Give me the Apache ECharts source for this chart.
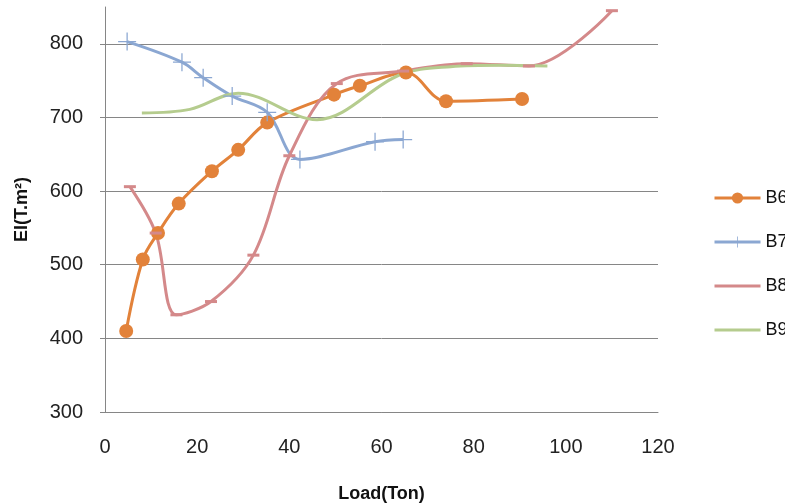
<!DOCTYPE html>
<html>
<head>
<meta charset="utf-8">
<script src="https://cdn.jsdelivr.net/npm/echarts@6/dist/echarts.min.js"></script>
<style>
  html, body { margin: 0; padding: 0; background: #fff; }
  #chart { width: 785px; height: 504px; }
</style>
</head>
<body>
<div id="chart"></div>
<script>
// values: [load (Ton), EI (T.m2)]
const b6 = [[4.6, 410], [8.2, 507], [11.5, 543], [16, 583], [23.2, 627], [28.9, 656],
  [35.2, 693], [49.7, 731], [55.3, 743], [65.3, 761], [74, 722], [90.5, 725]]
const b7 = [[4.8, 803], [16.7, 775], [21.3, 754], [27.6, 729], [35.2, 707], [42.3, 643],
  [58.6, 667], [64.7, 670]]
const b8 = [[5.4, 606], [11, 543], [15.5, 432], [23, 450], [32.2, 513], [40, 648],
  [50.3, 746], [64.7, 763], [78.5, 773], [92, 770], [110, 845]]
const b9 = [[8, 706], [18.4, 711], [28.9, 733], [46, 697], [64, 758], [75, 769],
  [86, 771], [96, 770]]
const names = ['B6', 'B7', 'B8', 'B9']
const colors = ['#E2823A', '#8BA7D2', '#D4898A', '#B5CC8E']

const crossSym = 'path://M-0.7,-10H0.7V10H-0.7Z M-10,-0.7H10V0.7H-10Z'
const dashSym = 'path://M-6,-1H6V1H-6Z'
const font = 'Liberation Sans, Arial, sans-serif'

const chart = echarts.init(document.getElementById('chart'))

function line(name, data, color, opts) {
  return Object.assign({
    name,
    type: 'line',
    data,
    smooth: 0.35,
    lineStyle: { width: 3, color },
    itemStyle: { color },
    showSymbol: true,
    clip: false,
  }, opts)
}

chart.setOption({
  animation: false,
  textStyle: { fontFamily: font },
  grid: { left: 105, right: 127, top: 7, bottom: 92, outerBoundsMode: 'none' },
  legend: {
    orient: 'vertical',
    left: 708,
    top: 184,
    itemWidth: 46,
    itemHeight: 14,
    itemGap: 26,
    data: [
      { name: 'B6', lineStyle: { width: 3 } },
      { name: 'B7', lineStyle: { width: 3 } },
      { name: 'B8', lineStyle: { width: 3 }, itemStyle: { opacity: 0 } },
      { name: 'B9', lineStyle: { width: 3 }, itemStyle: { opacity: 0 } },
    ],
    textStyle: { color: '#111', fontSize: 18, fontFamily: font },
  },
  xAxis: {
    type: 'value',
    min: 0, max: 120, interval: 20,
    name: 'Load(Ton)',
    nameLocation: 'middle',
    nameGap: 73,
    nameTextStyle: { color: '#111', fontSize: 18, fontWeight: 'bold' },
    axisLine: { lineStyle: { color: '#868686' } },
    axisTick: { show: false },
    axisLabel: { color: '#222', fontSize: 20, margin: 25 },
    splitLine: { show: false },
  },
  yAxis: {
    type: 'value',
    min: 300, max: 850, interval: 100,
    name: 'EI(T.m²)',
    nameLocation: 'middle',
    nameGap: 74,
    nameTextStyle: { color: '#111', fontSize: 18, fontWeight: 'bold' },
    axisLine: { show: true, lineStyle: { color: '#868686' } },
    axisTick: { show: true, length: 5, lineStyle: { color: '#868686' } },
    axisLabel: { color: '#222', fontSize: 20, margin: 22, showMaxLabel: false },
    splitLine: { show: true, showMaxLine: false, lineStyle: { color: '#868686' } },
  },
  series: [
    line('B6', b6, colors[0], { symbol: 'circle', symbolSize: 14 }),
    line('B7', b7, colors[1], { symbol: crossSym, symbolSize: 18 }),
    line('B8', b8, colors[2], { symbol: dashSym, symbolSize: [12, 3] }),
    line('B9', b9, colors[3], { symbol: 'none' }),
  ],
})
</script>
</body>
</html>
